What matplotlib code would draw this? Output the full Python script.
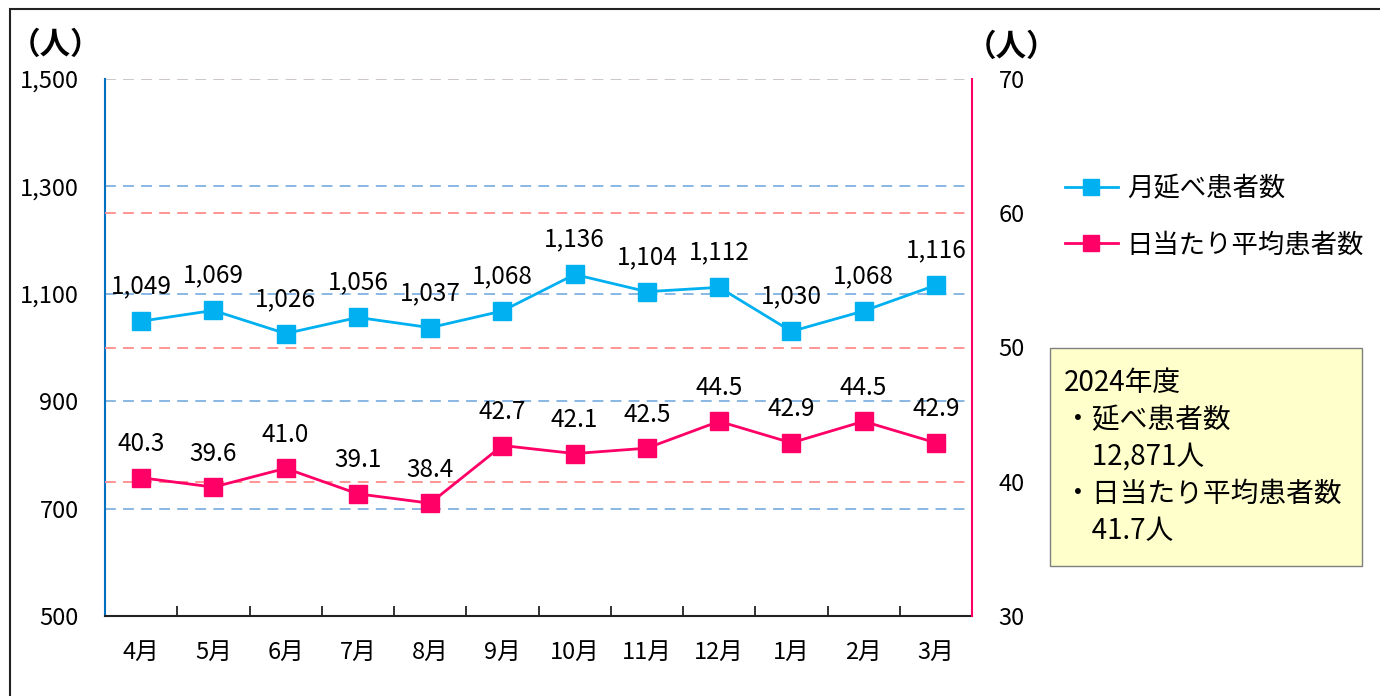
import matplotlib

matplotlib.use("Agg")
import matplotlib.pyplot as plt
import numpy as np
from matplotlib.patches import Rectangle
from matplotlib.lines import Line2D

plt.rcParams["font.family"] = ["Noto Sans CJK JP", "DejaVu Sans"]

months = ["4月", "5月", "6月", "7月", "8月", "9月", "10月", "11月", "12月", "1月", "2月", "3月"]
monthly_total = [1049, 1069, 1026, 1056, 1037, 1068, 1136, 1104, 1112, 1030, 1068, 1116]
daily_avg = [40.3, 39.6, 41.0, 39.1, 38.4, 42.7, 42.1, 42.5, 44.5, 42.9, 44.5, 42.9]
left_ticks = [500, 700, 900, 1100, 1300, 1500]
right_ticks = [30, 40, 50, 60, 70]
summary_lines = ["2024年度", "・延べ患者数", "　12,871人", "・日当たり平均患者数", "　41.7人"]

BLUE = "#00B0F0"
PINK = "#FF0066"

fig = plt.figure(figsize=(13.8, 6.96), dpi=100)
ax = fig.add_axes([105 / 1380, 1 - 616 / 696, 867 / 1380, 537 / 696])
ax2 = ax.twinx()

x = np.arange(len(months))

# grid lines
for v in [700, 900, 1100, 1300]:
    ax.axhline(v, color="#7FB2E0", lw=1.3, ls=(0, (6, 4)), zorder=0)
ax.axhline(1500, color="#C8C0C8", lw=1.3, ls=(0, (6, 4)), zorder=0)
for v in [40, 50, 60]:
    ax2.axhline(v, color="#FF8C8C", lw=1.3, ls=(0, (6, 4)), zorder=0)

ax.plot(x, monthly_total, color=BLUE, lw=2, marker="s", ms=13, mec=BLUE, zorder=3)
ax2.plot(x, daily_avg, color=PINK, lw=2, marker="s", ms=13, mec=PINK, zorder=3)

for xi, v in zip(x, monthly_total):
    ax.annotate(f"{v:,}", (xi, v), xytext=(0, 25), textcoords="offset points",
                ha="center", va="center", fontsize=17.5)
for xi, v in zip(x, daily_avg):
    ax2.annotate(f"{v:.1f}", (xi, v), xytext=(0, 24), textcoords="offset points",
                 ha="center", va="center", fontsize=17.5)

ax.set_xlim(-0.5, len(months) - 0.5)
ax.set_ylim(500, 1500)
ax2.set_ylim(30, 70)
ax.set_xticks(x)
ax.set_xticklabels(months, fontsize=17)
ax.set_xticks(np.arange(-0.5, len(months), 1), minor=True)
ax.tick_params(axis="x", which="major", length=0, pad=18)
ax.tick_params(axis="x", which="minor", direction="in", length=7, width=1.3, color="#222222")
ax.set_yticks(left_ticks)
ax.set_yticklabels([f"{v:,}" for v in left_ticks], fontsize=17)
ax.tick_params(axis="y", length=0, pad=19)
ax2.set_yticks(right_ticks)
ax2.set_yticklabels([str(v) for v in right_ticks], fontsize=17)
ax2.tick_params(axis="y", length=0, pad=19)

for a in (ax, ax2):
    a.spines["top"].set_visible(False)
ax.spines["left"].set_color("#0070C0")
ax.spines["left"].set_linewidth(1.5)
ax2.spines["left"].set_visible(False)
ax.spines["right"].set_visible(False)
ax2.spines["right"].set_color(PINK)
ax2.spines["right"].set_linewidth(1.5)
ax.spines["bottom"].set_color("#222222")
ax.spines["bottom"].set_linewidth(1.5)
ax2.spines["bottom"].set_visible(False)

fig.text(56 / 1380, 1 - 45 / 696, "（人）", fontsize=22, fontweight="bold", ha="center", va="center")
fig.text(1012 / 1380, 1 - 47 / 696, "（人）", fontsize=22, fontweight="bold", ha="center", va="center")

# legend
handles = [
    Line2D([], [], color=BLUE, lw=2, marker="s", ms=12, mec=BLUE),
    Line2D([], [], color=PINK, lw=2, marker="s", ms=12, mec=PINK),
]
fig.legend(handles, ["月延べ患者数", "日当たり平均患者数"], loc="center left",
           bbox_to_anchor=(1041 / 1380, 1 - 217 / 696), frameon=False, fontsize=19,
           handlelength=2.0, labelspacing=1.1, handletextpad=0.35)

# summary box
fig.patches.append(Rectangle((1050 / 1380, 1 - 566 / 696), 312 / 1380, 218 / 696,
                             transform=fig.transFigure, facecolor="#FFFFCC",
                             edgecolor="#808080", lw=1))
fig.text(1064 / 1380, 1 - 457 / 696, "\n".join(summary_lines), fontsize=20,
         ha="left", va="center", linespacing=1.3)

# outer frame
fig.patches.append(Rectangle((10 / 1380, -0.1), 1.2, 1.1 - 9 / 696,
                             transform=fig.transFigure, facecolor="none",
                             edgecolor="#222222", lw=1.5))

fig.savefig("out.png", dpi=100)
